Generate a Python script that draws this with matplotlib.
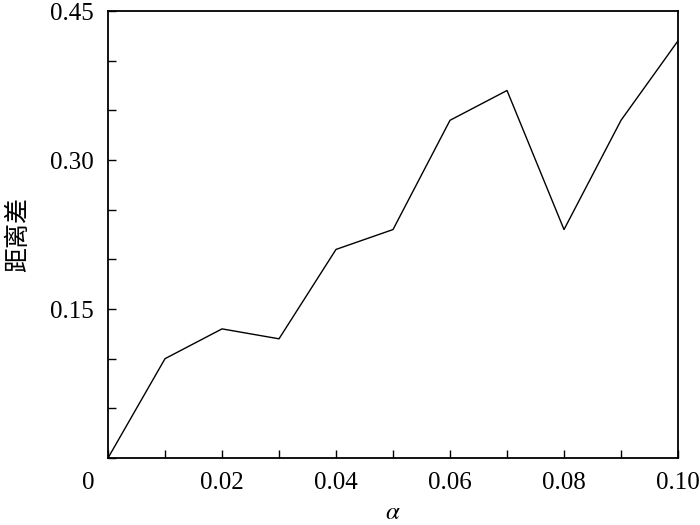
import numpy as np
import matplotlib.pyplot as plt
from matplotlib.ticker import MultipleLocator, FixedLocator

# data
alpha = [0.00, 0.01, 0.02, 0.03, 0.04, 0.05, 0.06, 0.07, 0.08, 0.09, 0.10]
dist_diff = [0.00, 0.10, 0.13, 0.12, 0.21, 0.23, 0.34, 0.37, 0.23, 0.34, 0.42]
xticklabels = ["", "0.02", "0.04", "0.06", "0.08", "0.10"]
yticklabels = ["", "0.15", "0.30", "0.45"]

plt.rcParams['font.family'] = ['Liberation Serif', 'Noto Sans CJK SC']
plt.rcParams['mathtext.fontset'] = 'stix'

fig = plt.figure(figsize=(7, 5.25), dpi=100)
ax = fig.add_axes([0.1543, 0.1276, 0.8143, 0.8514])

ax.plot(alpha, dist_diff, color="black", linewidth=1.0)

ax.set_xlim(0, 0.10)
ax.set_ylim(0, 0.45)

ax.xaxis.set_major_locator(FixedLocator([0, 0.02, 0.04, 0.06, 0.08, 0.10]))
ax.xaxis.set_minor_locator(MultipleLocator(0.01))
ax.set_xticklabels(xticklabels)
ax.yaxis.set_major_locator(FixedLocator([0, 0.15, 0.30, 0.45]))
ax.yaxis.set_minor_locator(MultipleLocator(0.05))
ax.set_yticklabels(yticklabels)

ax.tick_params(which="both", direction="in", labelsize=18, width=1.0)
ax.tick_params(which="major", length=6, pad=10)
ax.tick_params(which="minor", length=6)
for s in ax.spines.values():
    s.set_linewidth(1.3)

# shared origin label
ax.annotate("0", xy=(0, 0), xycoords="data", xytext=(-20, -25),
            textcoords="offset pixels", ha="center", va="center", fontsize=18)

ax.set_xlabel(r"$\alpha$", fontsize=18, labelpad=6)
ax.set_ylabel("距离差", fontsize=18, family=['Noto Sans CJK SC'], labelpad=14)

fig.savefig("out.png", dpi=100)
